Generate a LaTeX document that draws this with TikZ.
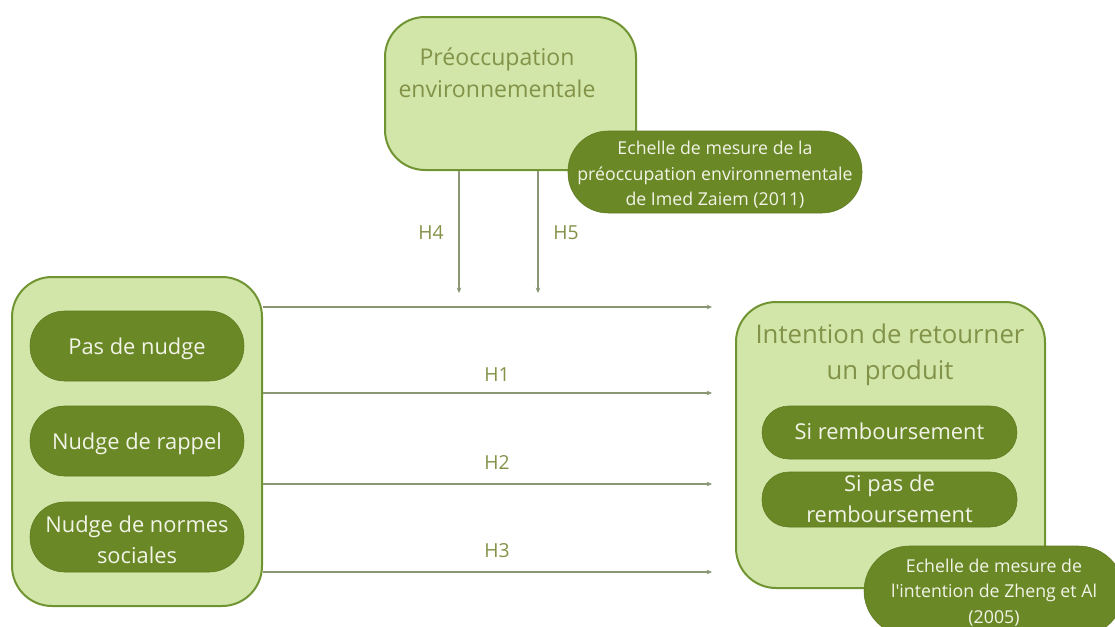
\documentclass[tikz,border=0pt]{standalone}
\usepackage{fontspec}
\setmainfont{Open Sans}
\usetikzlibrary{arrows.meta,fit}
\definecolor{lightfill}{RGB}{209,230,168}
\definecolor{boxedge}{RGB}{112,148,50}
\definecolor{pillfill}{RGB}{106,136,38}
\definecolor{titletext}{RGB}{130,146,72}
\definecolor{linkgray}{RGB}{138,150,116}
\definecolor{pilltext}{RGB}{242,244,232}

\begin{document}
\begin{tikzpicture}[x=0.75pt,y=-0.75pt,
  panel/.style={draw=boxedge, line width=1.5pt, fill=lightfill,
    rounded corners=30pt, inner sep=0pt},
  pill/.style={fill=pillfill, draw=pillfill!90!black, line width=0.4pt,
    inner sep=0pt, rounded corners=#1},
  pill/.default=26pt,
  lbl/.style={inner sep=0pt, text=pilltext, align=center, yshift=-2.2pt},
  toptitle/.style={text=titletext, align=center,
    font=\fontsize{17.3}{24}\selectfont},
  righttitle/.style={text=titletext, align=center,
    font=\fontsize{19.3}{27}\selectfont},
  pilltxt/.style={lbl, font=\fontsize{16.4}{22.8}\selectfont},
  badgetxt/.style={lbl, font=\fontsize{13.3}{19.2}\selectfont},
  hyp/.style={text=titletext, font=\fontsize{14.5}{17}\selectfont},
  link/.style={draw=linkgray, line width=1pt,
    -{Stealth[length=4pt,width=3.5pt]}}]

\useasboundingbox (0,0) rectangle (1115,626);
\clip (0,0) rectangle (1115,626);

% moderator box and its measurement scale
\node[panel, fit={(385,17) (636,170)}] (top) {};
\node[toptitle] (toptxt) at (497,73) {Préoccupation\\environnementale};
\node[pill=30pt, fit={(568,131) (862,213)}] (topscale) {};
\node[badgetxt] at (topscale.center)
  {Echelle de mesure de la\\préoccupation environnementale\\de Imed Zaiem (2011)};

% independent variable: nudge conditions
\node[panel, fit={(12,277) (262,606)}] (left) {};
\node[pill, fit={(30,311) (244,381)}] (n0) {};
\node[pilltxt] at (n0.center) {Pas de nudge};
\node[pill, fit={(30,406) (244,476)}] (n1) {};
\node[pilltxt] at (n1.center) {Nudge de rappel};
\node[pill, fit={(30,502) (244,572)}] (n2) {};
\node[pilltxt] at (n2.center) {Nudge de normes\\sociales};

% dependent variable: return intention
\node[panel, fit={(736,302) (1045,588)}] (right) {};
\node[righttitle] (righttxt) at (890,355) {Intention de retourner\\un produit};
\node[pill=20pt, fit={(762,406) (1017,459)}] (r0) {};
\node[pilltxt] at ([yshift=3pt]r0.center) {Si remboursement};
\node[pill=20pt, fit={(762,472) (1017,527)}] (r1) {};
\node[pilltxt] at ([yshift=2.6pt]r1.center) {Si pas de\\remboursement};
\node[pill=34pt, fit={(864,546) (1124,636)}] (rightscale) {};
\node[badgetxt] at ([yshift=1.2pt]rightscale.center)
  {Echelle de mesure de\\l\textquotesingle intention de Zheng et Al\\(2005)};

% arrow end points
\coordinate (e0) at (712,307);
\coordinate (e1) at (712,393);
\coordinate (e2) at (712,484);
\coordinate (e3) at (712,572);
\coordinate (v4) at (459,293);
\coordinate (v5) at (538,293);

% hypotheses
\draw[link] (left.east |- e0) -- (e0);
\draw[link] (left.east |- e1) -- (e1);
\draw[link] (left.east |- e2) -- (e2);
\draw[link] (left.east |- e3) -- (e3);
\draw[link] (top.south -| v4) -- (v4);
\draw[link] (top.south -| v5) -- (v5);

\node[hyp] (h1) at (497,375) {H1};
\node[hyp] (h2) at (497,462) {H2};
\node[hyp] (h3) at (497,551) {H3};
\node[hyp] (h4) at (431,233) {H4};
\node[hyp] (h5) at (566,233) {H5};
\end{tikzpicture}
\end{document}
